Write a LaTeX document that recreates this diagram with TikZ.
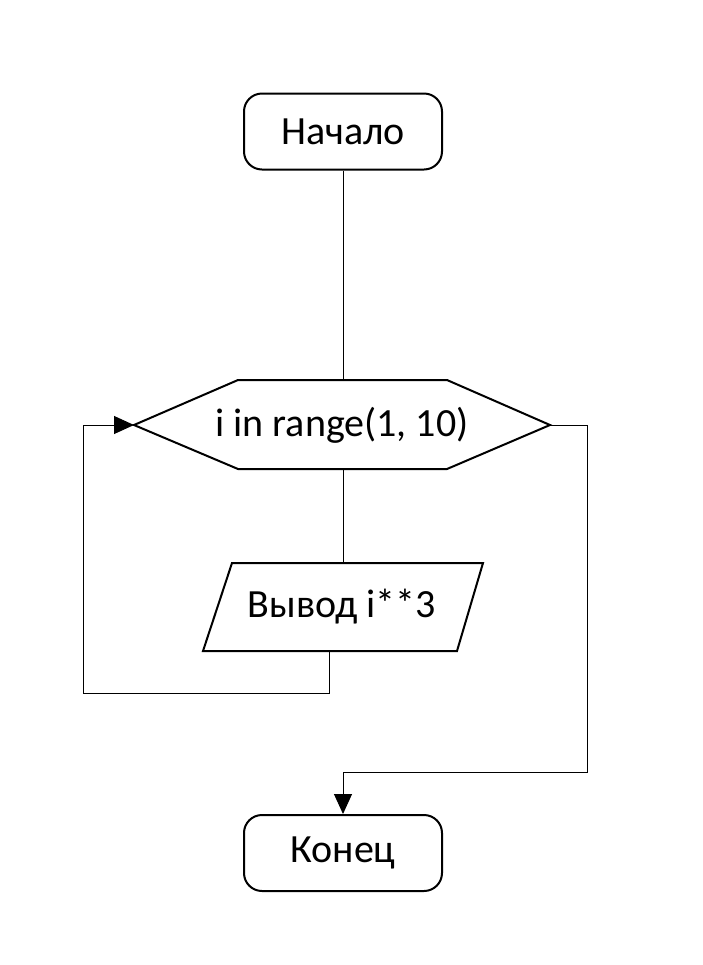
\documentclass[tikz,border=0pt]{standalone}
\usepackage{fontspec}
\setmainfont{Carlito}
\usetikzlibrary{arrows.meta}
\begin{document}
\begin{tikzpicture}[x=0.75pt,y=-0.75pt,
 term/.style={draw, line width=1.5pt, rounded corners=13.5pt, minimum width=148.5pt, minimum height=57pt, inner sep=0pt, font=\fontsize{30}{36}\selectfont},
 shp/.style={draw, line width=1.5pt, line join=miter},
 lbl/.style={font=\fontsize{30}{36}\selectfont, inner sep=0pt},
 conn/.style={line width=0.75pt},
 arr/.style={conn, -{Triangle[length=15pt,width=13.5pt]}}]
\useasboundingbox (0,0) rectangle (703,965);
\node[term] (start) at (343,131.5) {Начало};
\node[term] (end) at (343,853) {Конец};
% decision hexagon
\coordinate (hL) at (134,425);
\coordinate (hR) at (550,425);
\coordinate (hT) at (343,380);
\coordinate (hB) at (343,469);
\draw[shp] (hL) -- (238,380) -- (447,380) -- (hR) -- (447,469) -- (238,469) -- cycle;
\node[lbl] (cond) at (342,425) {i in range(1, 10)};
% output parallelogram
\coordinate (pT) at (343,563);
\coordinate (pB) at (329,651);
\draw[shp] (232,563) -- (483,563) -- (457,651) -- (203,651) -- cycle;
\node[lbl] (out) at (342,607) {Вывод i**3};
% connectors
\coordinate (loopL) at (83,693);
\coordinate (exitR) at (587,772);
\draw[conn] (start.south) -- (hT);
\draw[conn] (hB) -- (pT);
\draw[arr] (pB) |- (loopL) |- (hL);
\draw[arr] (hR) -| (exitR) -| (end.north);
\end{tikzpicture}
\end{document}
